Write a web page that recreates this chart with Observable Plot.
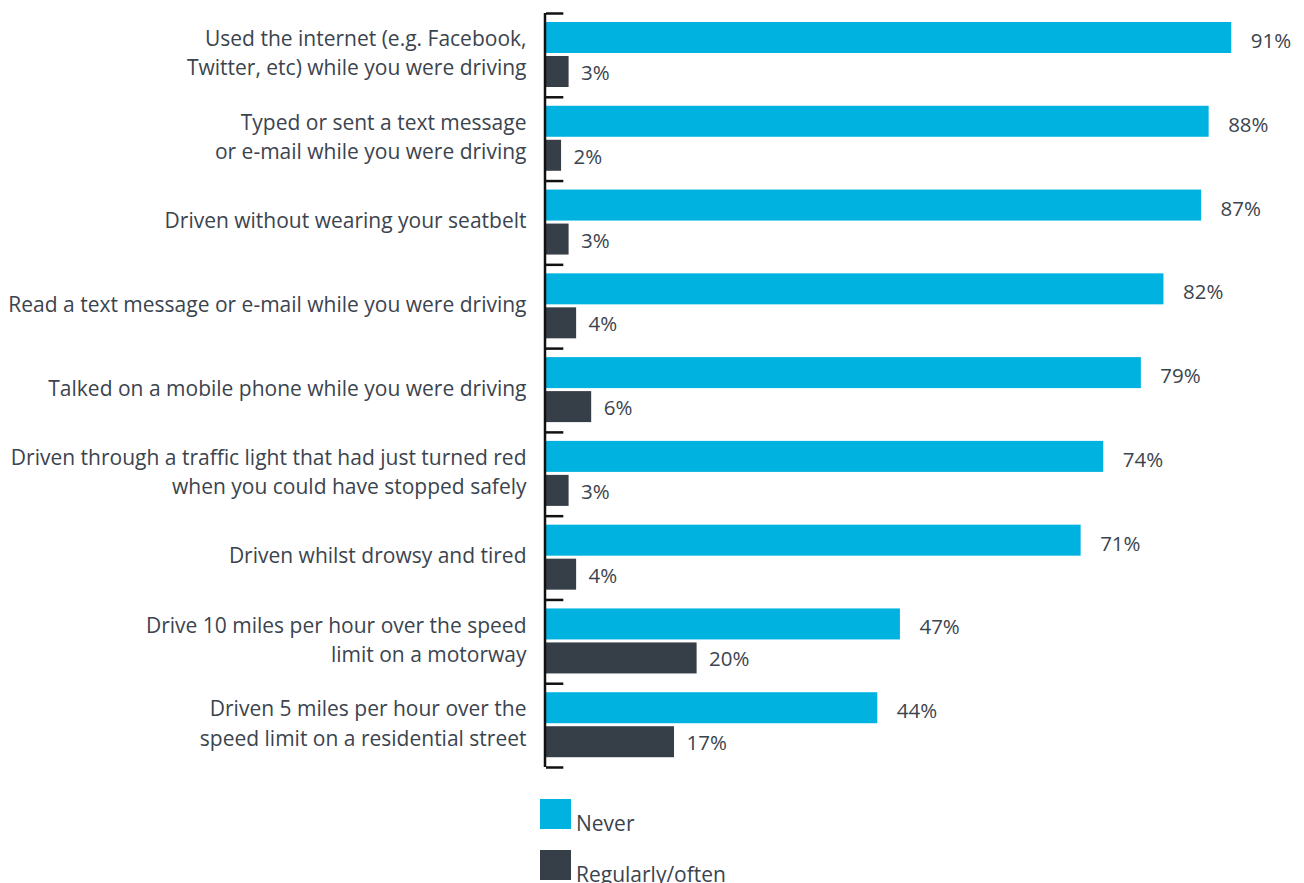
<!DOCTYPE html>
<html>
<head>
<meta charset="utf-8">
<script src="https://cdn.jsdelivr.net/npm/d3@7"></script>
<script src="https://cdn.jsdelivr.net/npm/@observablehq/plot@0.6"></script>
<style>
  html, body { margin: 0; padding: 0; background: #fff; }
  #wrap { position: relative; width: 1304px; height: 883px; overflow: hidden; font-family: "Open Sans", sans-serif; }
  .leg { position: absolute; left: 540px; display: flex; align-items: flex-end; font-size: 21px; color: #3b444e; }
  .leg .sw { width: 31px; height: 30px; margin-right: 5px; }
  .leg span { line-height: 21px; position: relative; top: 5px; }
</style>
</head>
<body>
<div id="wrap"></div>
<script>
const categories = [
  "Used the internet (e.g. Facebook,\nTwitter, etc) while you were driving",
  "Typed or sent a text message\nor e-mail while you were driving",
  "Driven without wearing your seatbelt",
  "Read a text message or e-mail while you were driving",
  "Talked on a mobile phone while you were driving",
  "Driven through a traffic light that had just turned red\nwhen you could have stopped safely",
  "Driven whilst drowsy and tired",
  "Drive 10 miles per hour over the speed\nlimit on a motorway",
  "Driven 5 miles per hour over the\nspeed limit on a residential street"
];
const neverValues = [91, 88, 87, 82, 79, 74, 71, 47, 44];
const regularlyValues = [3, 2, 3, 4, 6, 3, 4, 20, 17];
const seriesNames = ["Never", "Regularly/often"];
const seriesColors = ["#00b2e0", "#363e47"];

const neverRows = categories.map((c, i) => ({category: c, value: neverValues[i]}));
const regRows = categories.map((c, i) => ({category: c, value: regularlyValues[i]}));

const H = 790, MT = 13, MB = 23;
const band = (H - MT - MB) / categories.length;
const textColor = "#3b444e";

const chart = Plot.plot({
  width: 1304,
  height: H,
  marginTop: MT,
  marginBottom: MB,
  marginLeft: 546,
  marginRight: 5,
  x: {domain: [0, 100], axis: null},
  y: {domain: categories, axis: null, padding: 0, round: false},
  style: {fontFamily: "'Open Sans', sans-serif", fontSize: "20px", color: textColor, background: "#fff"},
  marks: [
    Plot.barX(neverRows, {x: "value", y: "category", fill: seriesColors[0], insetTop: 9, insetBottom: band - 40}),
    Plot.barX(regRows, {x: "value", y: "category", fill: seriesColors[1], insetTop: 43, insetBottom: band - 74}),
    Plot.text(neverRows, {x: "value", y: "category", text: d => d.value + "%", textAnchor: "start", dx: 19, dy: -14, fill: textColor, fontSize: 20.5}),
    Plot.text(regRows, {x: "value", y: "category", text: d => d.value + "%", textAnchor: "start", dx: 12, dy: 18, fill: textColor, fontSize: 20.5}),
    Plot.text(categories, {y: d => d, frameAnchor: "left", textAnchor: "end", dx: -20, dy: -4, lineHeight: 1.4, fill: textColor, fontSize: 21}),
    Plot.ruleX([0], {stroke: "#111", strokeWidth: 2.5, dx: -1.5}),
    Plot.ruleY(categories, {y: d => d, x1: 0, x2: 2.3, dy: -band / 2, stroke: "#111", strokeWidth: 2.5}),
    Plot.ruleY(categories.slice(-1), {y: d => d, x1: 0, x2: 2.3, dy: band / 2, stroke: "#111", strokeWidth: 2.5})
  ]
});

const wrap = document.getElementById("wrap");
wrap.appendChild(chart);

seriesNames.forEach((name, i) => {
  const item = document.createElement("div");
  item.className = "leg";
  item.style.top = (799 + i * 51) + "px";
  const sw = document.createElement("div");
  sw.className = "sw";
  sw.style.background = seriesColors[i];
  const label = document.createElement("span");
  label.textContent = name;
  item.appendChild(sw);
  item.appendChild(label);
  wrap.appendChild(item);
});
</script>
</body>
</html>
